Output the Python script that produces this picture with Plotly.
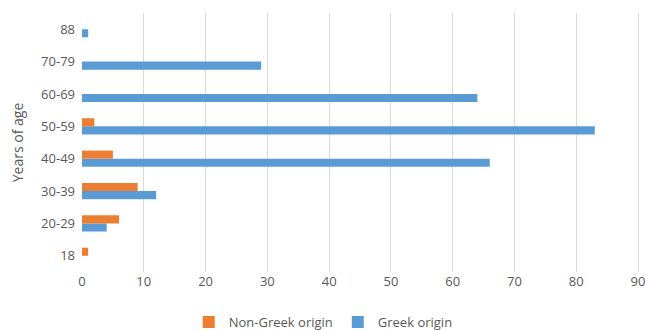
import plotly.graph_objects as go

age_groups = ["18", "20-29", "30-39", "40-49", "50-59", "60-69", "70-79", "88"]
greek_origin = [0, 4, 12, 66, 83, 64, 29, 1]
non_greek_origin = [1, 6, 9, 5, 2, 0, 0, 0]
x_ticks = [0, 10, 20, 30, 40, 50, 60, 70, 80, 90]

font_family = "Open Sans, Liberation Sans, sans-serif"
text_color = "#595959"

fig = go.Figure()
# Greek origin drawn first so it sits on the lower half of each group
fig.add_trace(go.Bar(
    y=age_groups, x=greek_origin, orientation="h", name="Greek origin",
    marker=dict(color="#5b9bd5", line=dict(width=0)),
))
fig.add_trace(go.Bar(
    y=age_groups, x=non_greek_origin, orientation="h", name="Non-Greek origin",
    marker=dict(color="#ed7d31", line=dict(width=0)),
))

fig.update_layout(
    width=645, height=331,
    margin=dict(l=82, r=2, t=13, b=59, autoexpand=False),
    paper_bgcolor="white", plot_bgcolor="white",
    barmode="group", bargap=0.5, bargroupgap=0,
    font=dict(family=font_family, size=13, color=text_color),
    showlegend=True,
    legend=dict(
        orientation="h", traceorder="reversed",
        x=0.43, xanchor="center", y=-0.193, yanchor="middle",
        font=dict(size=13, color=text_color),
        itemwidth=30, tracegroupgap=0,
    ),
    xaxis=dict(
        range=[0, 90.8], tickvals=x_ticks, showgrid=True, gridcolor="#d9d9d9",
        gridwidth=1, zeroline=False, showline=False, ticks="",
        ticklabeloverflow="allow",
        tickfont=dict(size=13, color=text_color),
    ),
    yaxis=dict(
        categoryorder="array", categoryarray=age_groups,
        showgrid=False, zeroline=False, showline=False, ticks="",
        ticklabelstandoff=6,
        title=dict(text="Years of age", font=dict(size=14, color=text_color), standoff=14),
        tickfont=dict(size=13, color=text_color),
    ),
)

fig.write_html("out.html")
